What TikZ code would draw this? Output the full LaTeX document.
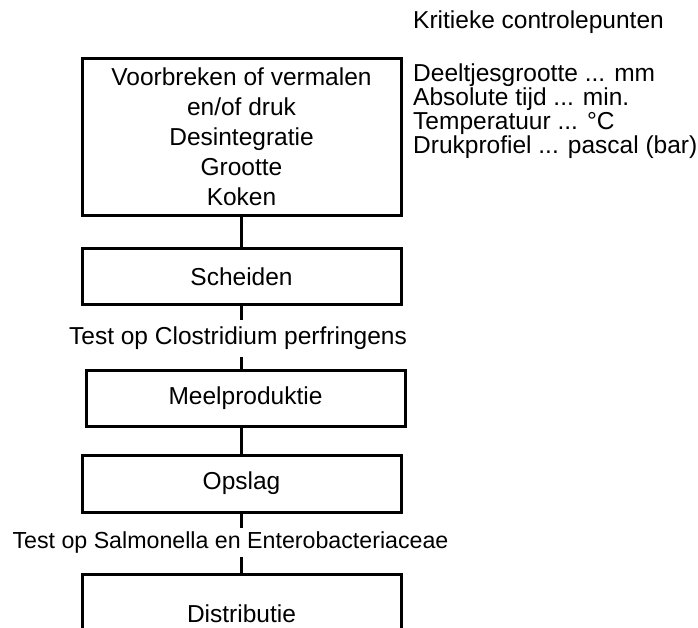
\documentclass[tikz,border=0pt]{standalone}
\usepackage{fontspec}
\setmainfont{Liberation Sans}
\begin{document}
\begin{tikzpicture}[x=1pt,y=-1pt,
  box/.style={draw,line width=3pt,inner sep=0pt,minimum width=319pt,align=center,font=\fontsize{24.5}{30}\selectfont},
  lbl/.style={inner sep=0pt,font=\fontsize{24.5}{26}\selectfont},
  side/.style={inner sep=0pt,anchor=west,font=\fontsize{24.5}{24}\selectfont},
  conn/.style={line width=3pt}]
\useasboundingbox (0,0) rectangle (698,627);
\clip (0,0) rectangle (698,627);
\node[box,minimum height=157pt] (b1) at (241.5,136.5) {Voorbreken of vermalen\\en/of druk\\Desintegratie\\Grootte\\Koken};
\node[box,minimum height=56pt] (b2) at (241.5,276.5) {Scheiden};
\node[lbl,minimum height=37pt] (t1) at (238,338.5) {Test op Clostridium perfringens};
\node[box,minimum height=56pt] (b3) at (245.5,398) {Meelproduktie};
\node[box,minimum height=57pt] (b4) at (241.5,483.5) {Opslag};
\node[lbl,minimum height=29pt,font=\fontsize{23.2}{26}\selectfont] (t2) at (230.5,542.5) {Test op Salmonella en Enterobacteriaceae};
\node[box,minimum height=80pt] (b5) at (241.5,614) {Distributie};
\node[side] (k0) at (413,22) {Kritieke controlepunten};
\node[side] (k1) at (413,75) {Deeltjesgrootte ... mm};
\node[side] (k2) at (413,99) {Absolute tijd ... min.};
\node[side] (k3) at (413,123) {Temperatuur ... °C};
\node[side] (k4) at (413,147) {Drukprofiel ... pascal (bar)};
\draw[conn] (b1.south) -- (b2.north);
\draw[conn] (b2.south) -- (b2.south |- t1.north);
\draw[conn] (b2.south |- t1.south) -- (b2.south |- b3.north);
\draw[conn] (b3.south -| b4.north) -- (b4.north);
\draw[conn] (b4.south) -- (b4.south |- t2.north);
\draw[conn] (b4.south |- t2.south) -- (b5.north);
\end{tikzpicture}
\end{document}
